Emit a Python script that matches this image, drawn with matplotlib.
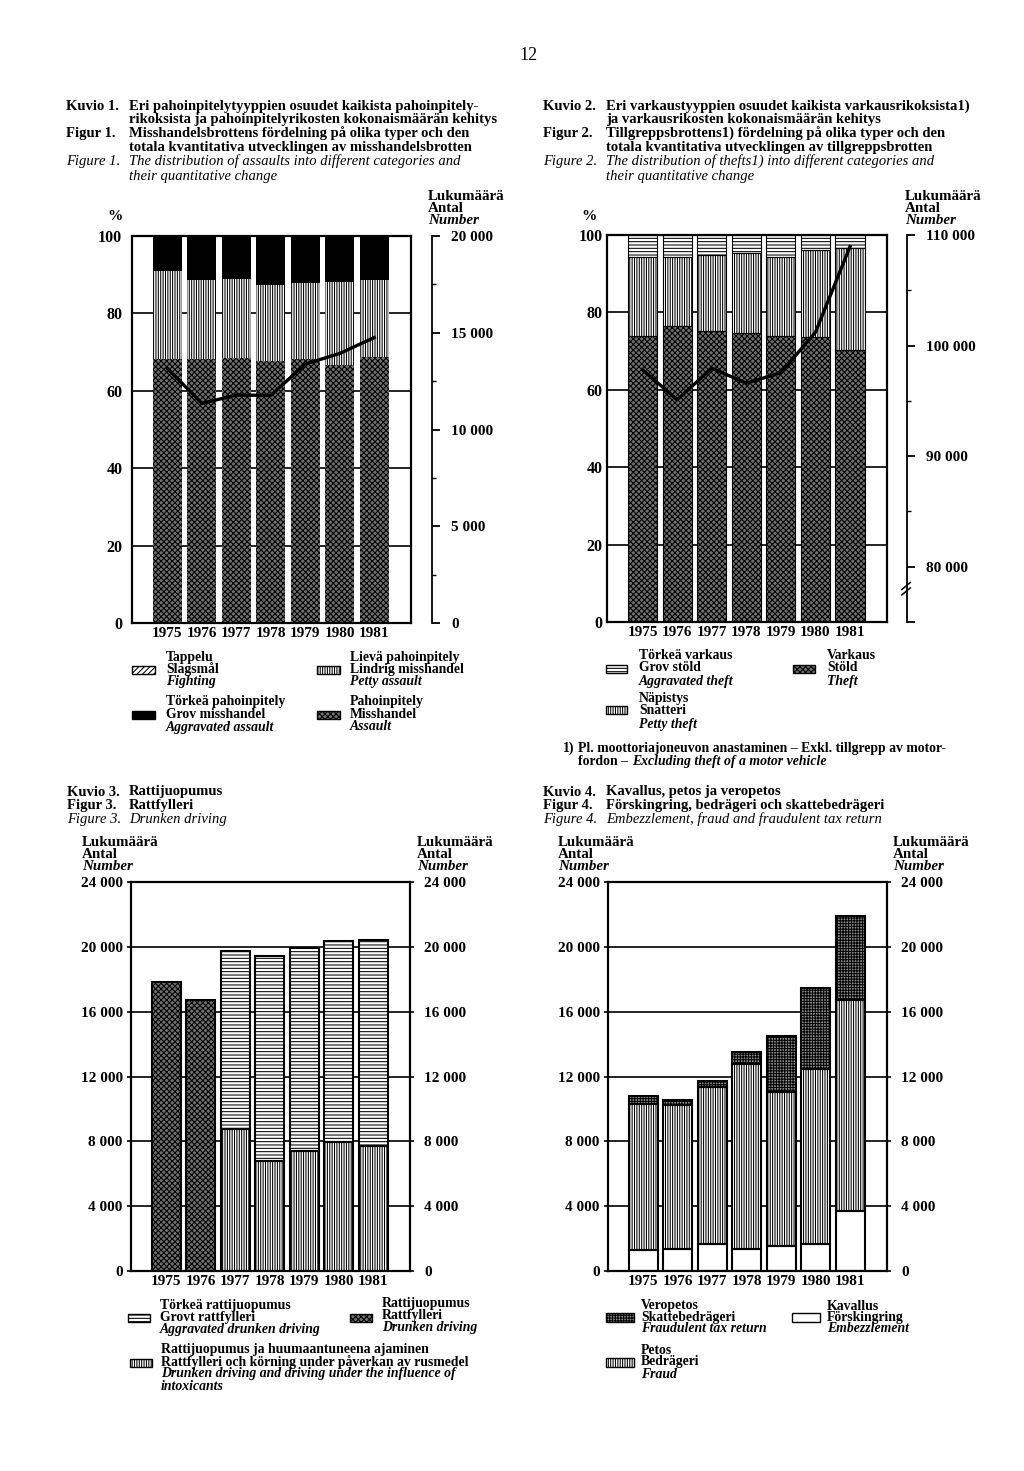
import numpy as np
import matplotlib
matplotlib.use("Agg")
import matplotlib.pyplot as plt
from matplotlib.patches import Rectangle
from matplotlib.ticker import FixedLocator, FuncFormatter

plt.rcParams['font.family'] = ['Liberation Serif', 'DejaVu Serif']
plt.rcParams['font.weight'] = 'bold'
plt.rcParams['hatch.linewidth'] = 0.75

years = ['1975', '1976', '1977', '1978', '1979', '1980', '1981']

# Kuvio 1 - shares of assault types (%), total number of assaults
assault_pct = [68.2, 68.2, 68.4, 67.8, 68.2, 66.6, 68.8]
petty_assault_pct = [22.8, 20.5, 20.4, 19.5, 19.7, 21.5, 19.8]
aggr_assault_pct = [9.0, 11.3, 11.2, 12.7, 12.1, 11.9, 11.4]
assault_total = [13150, 11350, 11780, 11760, 13380, 13930, 14750]

# Kuvio 2 - shares of theft types (%), total number of thefts
theft_pct = [73.8, 76.5, 75.2, 74.8, 73.8, 73.6, 70.3]
petty_theft_pct = [20.4, 17.7, 19.6, 20.6, 20.6, 22.5, 26.3]
aggr_theft_pct = [5.8, 5.8, 5.2, 4.6, 5.6, 3.9, 3.4]
theft_total = [97800, 95100, 97950, 96600, 97550, 101200, 108950]

# Kuvio 3 - drunken driving
drunk_old = [17850, 16720, 0, 0, 0, 0, 0]
drunk_drugs = [0, 0, 8740, 6800, 7420, 7980, 7730]
drunk_aggr = [0, 0, 11020, 12650, 12480, 12400, 12710]

# Kuvio 4 - embezzlement, fraud, tax fraud
embezzlement = [1300, 1380, 1650, 1340, 1560, 1640, 3700]
fraud = [9000, 8890, 9720, 11430, 9480, 10800, 13020]
tax_fraud = [520, 300, 370, 760, 3460, 5000, 5180]

W, H = 1024, 1471
fig = plt.figure(figsize=(W / 100, H / 100), dpi=100)

DOT = dict(face='#707070', hatch='xxxxxx')
VERT = dict(face='white', hatch='|||||||')
HORZ = dict(face='white', hatch='-----')
GRID = dict(face='#8c8c8c', hatch='++++++')
DIAG = dict(face='white', hatch='//////')
BLACK = dict(face='black', hatch=None)
WHITE = dict(face='white', hatch=None)

TITLE = 10.5
LEG = 9.9
TICK = 11

x = np.arange(len(years))
bw = 0.84


def T(px, py, s, **kw):
    kw.setdefault('fontsize', TITLE)
    return fig.text(px / W, 1 - py / H, s, va='center', ha=kw.pop('ha', 'left'), **kw)


def A(l, t, r, b):
    return fig.add_axes([l / W, 1 - b / H, (r - l) / W, (b - t) / H])


def fmt(v, pos=None):
    return '{:,}'.format(int(v)).replace(',', ' ')


def bars(ax, h, bottom, st, outline=0):
    ax.bar(x, h, bw, bottom=bottom, color=st['face'], edgecolor='black',
           hatch=st['hatch'], lw=0, zorder=2)
    if outline:
        ax.bar(x, h, bw, bottom=bottom, fill=False, edgecolor='black',
               lw=outline, zorder=3)


def patch(px, py, st, w=23, h=8):
    fig.add_artist(Rectangle((px / W, 1 - (py + h / 2) / H), w / W, h / H,
                             transform=fig.transFigure, facecolor=st['face'],
                             edgecolor='black', hatch=st['hatch'], lw=0))
    fig.add_artist(Rectangle((px / W, 1 - (py + h / 2) / H), w / W, h / H,
                             transform=fig.transFigure, fill=False,
                             edgecolor='black', lw=1.0))


def legend_lines(px, ys, lines, italic_from=2):
    for i, (yy, s) in enumerate(zip(ys, lines)):
        T(px, yy, s, fontsize=LEG, style='italic' if i >= italic_from else 'normal')


def base_axes(ax, ymax, ticks):
    ax.set_xlim(-1.03, 6 + 1.07)
    ax.set_ylim(0, ymax)
    ax.set_yticks(ticks)
    ax.yaxis.grid(True, color='black', lw=1.2)
    ax.set_axisbelow(True)
    ax.set_xticks(x, years)
    ax.tick_params(axis='x', length=0, pad=3, labelsize=TICK)
    for s in ax.spines.values():
        s.set_linewidth(1.6)


def right_scale(ax, lim, major, minor, labels, pos):
    ax2 = ax.twinx()
    ax2.set_ylim(*lim)
    for k in ['top', 'bottom', 'left']:
        ax2.spines[k].set_visible(False)
    ax2.spines['right'].set_position(('axes', pos))
    ax2.spines['right'].set_linewidth(1.3)
    ax2.yaxis.set_major_locator(FixedLocator(major))
    ax2.yaxis.set_minor_locator(FixedLocator(minor))
    ax2.set_yticklabels(labels)
    ax2.tick_params(axis='y', which='major', length=6, width=1.3, pad=8, labelsize=TICK)
    ax2.tick_params(axis='y', which='minor', length=3, width=1.0)
    return ax2


def lukumaara(px, y0):
    T(px, y0, 'Lukumäärä', fontsize=10.8)
    T(px, y0 + 12, 'Antal', fontsize=10.8)
    T(px, y0 + 24, 'Number', fontsize=10.8, style='italic')


# page number
T(519, 55, '12', fontsize=13, weight='normal')

# ---------------- Kuvio 1 ----------------
ty = [106.5, 120, 133.5, 147.5, 161.5, 176.5]
T(66, ty[0], 'Kuvio 1.')
T(129, ty[0], 'Eri pahoinpitelytyyppien osuudet kaikista pahoinpitely-')
T(129, ty[1], 'rikoksista ja pahoinpitelyrikosten kokonaismäärän kehitys')
T(66, ty[2], 'Figur 1.')
T(129, ty[2], 'Misshandelsbrottens fördelning på olika typer och den')
T(129, ty[3], 'totala kvantitativa utvecklingen av misshandelsbrotten')
T(66, ty[4], 'Figure 1.', style='italic', weight='normal')
T(129, ty[4], 'The distribution of assaults into different categories and', style='italic', weight='normal')
T(129, ty[5], 'their quantitative change', style='italic', weight='normal')
T(107, 217, '%', fontsize=11)
lukumaara(428, 197)

ax1 = A(132, 236, 411, 623)
base_axes(ax1, 100, [0, 20, 40, 60, 80, 100])
ax1.tick_params(axis='y', length=0, pad=7, labelsize=11.5)
b = np.zeros(7)
for vals, st in [(assault_pct, DOT), (petty_assault_pct, VERT), (aggr_assault_pct, BLACK)]:
    bars(ax1, vals, b, st)
    b = b + np.array(vals)
r1 = right_scale(ax1, (0, 20000), [0, 5000, 10000, 15000, 20000],
                 [2500, 7500, 12500, 17500],
                 [fmt(v) for v in [0, 5000, 10000, 15000, 20000]], 1.075)
r1.plot(x, assault_total, color='black', lw=2.4, zorder=5)

patch(132, 670, DIAG)
legend_lines(166, [657, 669, 681], ['Tappelu', 'Slagsmål', 'Fighting'])
patch(132, 715, BLACK)
legend_lines(166, [702, 714, 727], ['Törkeä pahoinpitely', 'Grov misshandel', 'Aggravated assault'])
patch(317, 670, VERT)
legend_lines(350, [657, 669, 681], ['Lievä pahoinpitely', 'Lindrig misshandel', 'Petty assault'])
patch(317, 715, DOT)
legend_lines(350, [702, 714, 727], ['Pahoinpitely', 'Misshandel', 'Assault'])

# ---------------- Kuvio 2 ----------------
T(543, ty[0], 'Kuvio 2.')
T(606, ty[0], 'Eri varkaustyyppien osuudet kaikista varkausrikoksista1)')
T(606, ty[1], 'ja varkausrikosten kokonaismäärän kehitys')
T(543, ty[2], 'Figur 2.')
T(606, ty[2], 'Tillgreppsbrottens1) fördelning på olika typer och den')
T(606, ty[3], 'totala kvantitativa utvecklingen av tillgreppsbrotten')
T(543, ty[4], 'Figure 2.', style='italic', weight='normal')
T(606, ty[4], 'The distribution of thefts1) into different categories and', style='italic', weight='normal')
T(606, ty[5], 'their quantitative change', style='italic', weight='normal')
T(581, 217, '%', fontsize=11)
lukumaara(905, 197)

ax2 = A(607, 235, 887, 622)
base_axes(ax2, 100, [0, 20, 40, 60, 80, 100])
ax2.tick_params(axis='y', length=0, pad=3, labelsize=11.5)
b = np.zeros(7)
for vals, st in [(theft_pct, DOT), (petty_theft_pct, VERT), (aggr_theft_pct, HORZ)]:
    bars(ax2, vals, b, st, outline=0.8)
    b = b + np.array(vals)
r2 = right_scale(ax2, (75000, 110000), [75000, 80000, 90000, 100000, 110000],
                 [85000, 95000, 105000],
                 [''] + [fmt(v) for v in [80000, 90000, 100000, 110000]], 1.071)
r2.plot(x, theft_total, color='black', lw=2.4, zorder=5)
for dy in (0.0, 0.014):
    r2.plot([1.071 - 0.018, 1.071 + 0.012], [0.070 + dy, 0.088 + dy],
            transform=r2.transAxes, clip_on=False, color='black', lw=1.1)

patch(606, 669, HORZ, w=21)
legend_lines(639, [656, 668, 681], ['Törkeä varkaus', 'Grov stöld', 'Aggravated theft'])
patch(606, 710, VERT, w=21)
legend_lines(639, [699, 711, 724], ['Näpistys', 'Snatteri', 'Petty theft'])
patch(793, 669, DOT, w=22)
legend_lines(827, [656, 668, 681], ['Varkaus', 'Stöld', 'Theft'])
T(563, 748, '1)', fontsize=LEG)
T(578, 748, 'Pl. moottoriajoneuvon anastaminen – Exkl. tillgrepp av motor-', fontsize=LEG)
fn = T(578, 761, 'fordon –', fontsize=LEG)
ax2.annotate('Excluding theft of a motor vehicle', xy=(1, 0.5), xycoords=fn,
             xytext=(3, 0), textcoords='offset points', va='center',
             fontsize=LEG, style='italic', annotation_clip=False)

# ---------------- Kuvio 3 ----------------
t3 = [792, 805, 819]
T(67, t3[0], 'Kuvio 3.')
T(129, t3[0], 'Rattijuopumus')
T(67, t3[1], 'Figur 3.')
T(129, t3[1], 'Rattfylleri')
T(67, t3[2], 'Figure 3.', style='italic', weight='normal')
T(129, t3[2], 'Drunken driving', style='italic', weight='normal')
lukumaara(82, 843)
lukumaara(417, 843)

count_ticks = list(range(0, 24001, 4000))


def count_axes(l, t, r, bt):
    ax = A(l, t, r, bt)
    base_axes(ax, 24000, count_ticks)
    ax.yaxis.set_major_formatter(FuncFormatter(fmt))
    ax.tick_params(axis='y', length=3, width=1.2, pad=3, labelsize=TICK)
    axr = ax.twinx()
    axr.set_ylim(0, 24000)
    axr.set_yticks(count_ticks)
    axr.yaxis.set_major_formatter(FuncFormatter(fmt))
    axr.tick_params(axis='y', length=3, width=1.2, pad=7, labelsize=TICK)
    for s in axr.spines.values():
        s.set_visible(False)
    return ax


ax3 = count_axes(131, 882, 410, 1271)
b = np.zeros(7)
for vals, st in [(drunk_old, DOT), (drunk_drugs, VERT), (drunk_aggr, HORZ)]:
    v = np.array(vals)
    ax3.bar(x, v, bw, bottom=b, color=st['face'], edgecolor='black', hatch=st['hatch'], lw=0, zorder=2)
    m = v > 0
    ax3.bar(x[m], v[m], bw, bottom=b[m], fill=False, edgecolor='black', lw=1.5, zorder=3)
    b = b + v

patch(128, 1318, HORZ, w=22)
legend_lines(160, [1305, 1317, 1329], ['Törkeä rattijuopumus', 'Grovt rattfylleri', 'Aggravated drunken driving'])
patch(350, 1318, DOT, w=22)
legend_lines(382, [1304, 1316, 1328], ['Rattijuopumus', 'Rattfylleri', 'Drunken driving'])
patch(130, 1363, VERT, w=22)
legend_lines(161, [1350, 1362, 1374, 1386],
             ['Rattijuopumus ja huumaantuneena ajaminen',
              'Rattfylleri och körning under påverkan av rusmedel',
              'Drunken driving and driving under the influence of',
              'intoxicants'])

# ---------------- Kuvio 4 ----------------
T(543, t3[0], 'Kuvio 4.')
T(606, t3[0], 'Kavallus, petos ja veropetos')
T(543, t3[1], 'Figur 4.')
T(606, t3[1], 'Förskingring, bedrägeri och skattebedrägeri')
T(543, t3[2], 'Figure 4.', style='italic', weight='normal')
T(606, t3[2], 'Embezzlement, fraud and fraudulent tax return', style='italic', weight='normal')
lukumaara(558, 843)
lukumaara(893, 843)

ax4 = count_axes(608, 882, 887, 1271)
b = np.zeros(7)
for vals, st in [(embezzlement, WHITE), (fraud, VERT), (tax_fraud, GRID)]:
    bars(ax4, vals, b, st, outline=1.5)
    b = b + np.array(vals)

patch(606, 1317, GRID, w=28, h=9)
legend_lines(641, [1306, 1317, 1329], ['Veropetos', 'Skattebedrägeri', 'Fraudulent tax return'])
patch(792, 1317, WHITE, w=28, h=9)
legend_lines(827, [1306, 1317, 1329], ['Kavallus', 'Förskingring', 'Embezzlement'])
patch(606, 1362, VERT, w=28, h=9)
legend_lines(641, [1350, 1362, 1374], ['Petos', 'Bedrägeri', 'Fraud'])

fig.savefig('out.png', dpi=100, facecolor='white')
